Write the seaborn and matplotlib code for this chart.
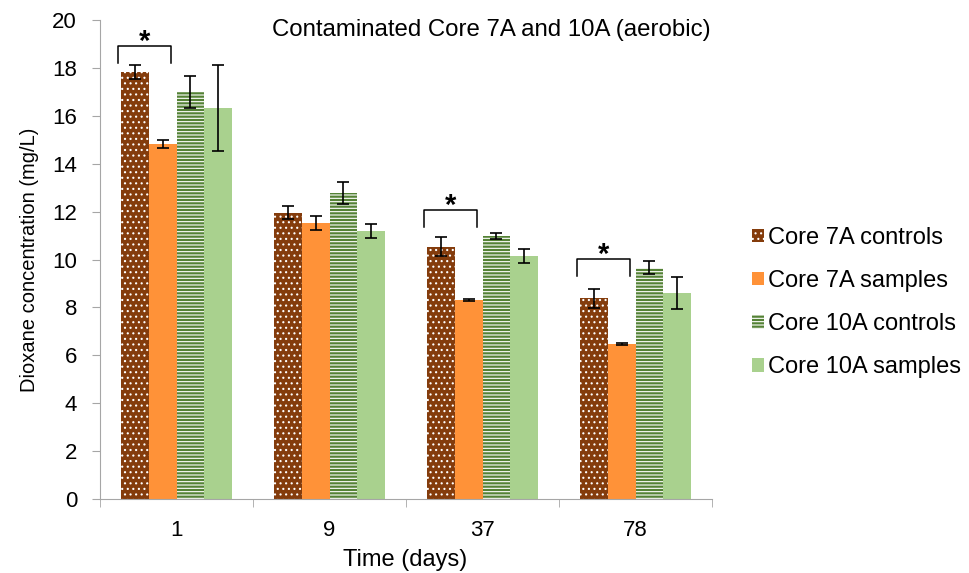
import pandas as pd
import matplotlib.pyplot as plt
import seaborn as sns

days = ['1', '9', '37', '78']
series = ['Core 7A controls', 'Core 7A samples', 'Core 10A controls', 'Core 10A samples']
core7a_controls = [17.82, 11.95, 10.53, 8.38]
core7a_samples = [14.82, 11.52, 8.31, 6.47]
core10a_controls = [16.98, 12.78, 10.98, 9.65]
core10a_samples = [16.33, 11.19, 10.15, 8.60]
core7a_controls_err = [0.30, 0.27, 0.40, 0.39]
core7a_samples_err = [0.15, 0.28, 0.03, 0.04]
core10a_controls_err = [0.67, 0.45, 0.12, 0.27]
core10a_samples_err = [1.80, 0.30, 0.30, 0.65]
# significance bracket heights (top of bracket), None = no bracket
bracket_top = [18.91, None, 12.07, 10.02]

values = [core7a_controls, core7a_samples, core10a_controls, core10a_samples]
errors = [core7a_controls_err, core7a_samples_err, core10a_controls_err, core10a_samples_err]

df = pd.DataFrame({
    'day': days * 4,
    'conc': sum(values, []),
    'series': [s for s in series for _ in days],
})

colors = ['#843C0C', '#FF9238', '#548235', '#A9D18E']
hatches = ['...', None, '-----', None]

plt.rcParams['font.family'] = ['Liberation Sans', 'DejaVu Sans']
plt.rcParams['hatch.linewidth'] = 0.8

fig = plt.figure(figsize=(9.69, 5.73), dpi=100)
ax = fig.add_axes([100 / 969, 74 / 573, 612 / 969, 479 / 573])

sns.barplot(data=df, x='day', y='conc', hue='series', hue_order=series,
            palette=colors, errorbar=None, width=0.73, saturation=1, ax=ax)
bar_groups = list(ax.containers)

for cont, hatch, err in zip(bar_groups, hatches, errors):
    for bar, e in zip(cont.patches, err):
        bar.set_linewidth(0)
        if hatch:
            bar.set_hatch(hatch)
            bar.set_edgecolor('white')
        cx = bar.get_x() + bar.get_width() / 2
        ax.errorbar(cx, bar.get_height(), yerr=e, color='black', lw=1.2,
                    capsize=4.5, capthick=1.2)

# significance brackets between Core 7A controls and samples
for i, ytop in enumerate(bracket_top):
    if ytop is None:
        continue
    b1 = bar_groups[0].patches[i]
    b2 = bar_groups[1].patches[i]
    x0 = b1.get_x() - 0.02
    x1 = b2.get_x() + b2.get_width() * 0.8
    ylow = ytop - 0.71
    ax.plot([x0, x0, x1, x1], [ylow, ytop, ytop, ylow], color='black', lw=1.1,
            solid_joinstyle='round')
    ax.text((x0 + x1) / 2, ytop - 0.16, '*', ha='center', va='baseline',
            fontsize=21, fontweight='bold')

ax.set_ylim(0, 20)
ax.set_yticks(range(0, 21, 2))
ax.set_xlim(-0.5, 3.5)
ax.tick_params(axis='y', labelsize=16, color='#A6A6A6', length=6, pad=10.5)
ax.tick_params(axis='x', which='major', labelsize=16, length=0, pad=15)
ax.set_xticks([-0.5, 0.5, 1.5, 2.5, 3.5], minor=True)
ax.tick_params(axis='x', which='minor', length=6, color='#A6A6A6')
for side in ['top', 'right']:
    ax.spines[side].set_visible(False)
for side in ['left', 'bottom']:
    ax.spines[side].set_color('#A6A6A6')

ax.set_xlabel('Time (days)', fontsize=17)
ax.xaxis.set_label_coords(0.498, -0.104)
ax.set_ylabel('Dioxane concentration (mg/L)', fontsize=14.5)
ax.yaxis.set_label_coords(-0.1, 0.5)
ax.text(0.639, 0.979, 'Contaminated Core 7A and 10A (aerobic)', fontsize=17.3,
        ha='center', va='center', transform=ax.transAxes)

ax.get_legend().remove()
ax.legend(handles=[c.patches[0] for c in bar_groups], labels=series,
          loc='center left', bbox_to_anchor=(1.065, 0.41), frameon=False,
          fontsize=17, handlelength=0.5, handleheight=0.5, handletextpad=0.2,
          labelspacing=0.9, borderpad=0, borderaxespad=0)

fig.savefig('out.png', dpi=100)
